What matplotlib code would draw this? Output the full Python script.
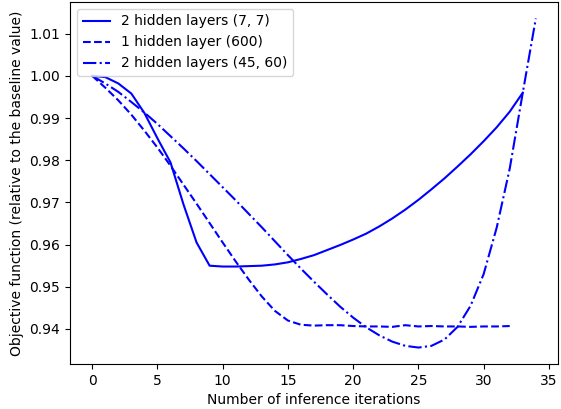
import numpy as np
import matplotlib
matplotlib.use('Agg')
import matplotlib.pyplot as plt

# значения целевой функции по итерациям
obj_7_7 = [1.0000, 0.9997, 0.9982, 0.9958, 0.9912, 0.9852, 0.9795, 0.9695, 0.9605, 0.9550,
           0.9548, 0.9548, 0.9549, 0.9550, 0.9553, 0.9558, 0.9566, 0.9575, 0.9587, 0.9599,
           0.9612, 0.9626, 0.9643, 0.9662, 0.9683, 0.9706, 0.9731, 0.9757, 0.9785, 0.9814,
           0.9845, 0.9878, 0.9915, 0.9960]
obj_600 = [1.0000, 0.9972, 0.9942, 0.9908, 0.9870, 0.9830, 0.9787, 0.9742, 0.9697, 0.9651,
           0.9605, 0.9560, 0.9517, 0.9477, 0.9443, 0.9420, 0.9410, 0.9408, 0.9409, 0.9409,
           0.9407, 0.9406, 0.9406, 0.9405, 0.9409, 0.9406, 0.9407, 0.9406, 0.9406, 0.9405,
           0.9406, 0.9406, 0.9407]
obj_45_60 = [1.0000, 0.9982, 0.9962, 0.9938, 0.9913, 0.9886, 0.9857, 0.9828, 0.9798, 0.9767,
             0.9736, 0.9705, 0.9673, 0.9641, 0.9608, 0.9575, 0.9543, 0.9512, 0.9482, 0.9453,
             0.9427, 0.9404, 0.9385, 0.9370, 0.9360, 0.9356, 0.9360, 0.9375, 0.9405, 0.9455,
             0.9530, 0.9640, 0.9780, 0.9960, 1.0136]

fig = plt.figure(figsize=(5.61, 4.09), dpi=100)
ax = fig.add_axes([70 / 561, 1 - 364 / 409, 488 / 561, 362 / 409])

ax.plot(np.arange(len(obj_7_7)), obj_7_7, 'b-', label='2 hidden layers (7, 7)')
ax.plot(np.arange(len(obj_600)), obj_600, 'b--', label='1 hidden layer (600)')
ax.plot(np.arange(len(obj_45_60)), obj_45_60, 'b-.', label='2 hidden layers (45, 60)')

ax.set_xlabel('Number of inference iterations')
ax.set_ylabel('Objective function (relative to the baseline value)')
ax.legend(loc='upper left')

plt.savefig('out.png', dpi=100)
